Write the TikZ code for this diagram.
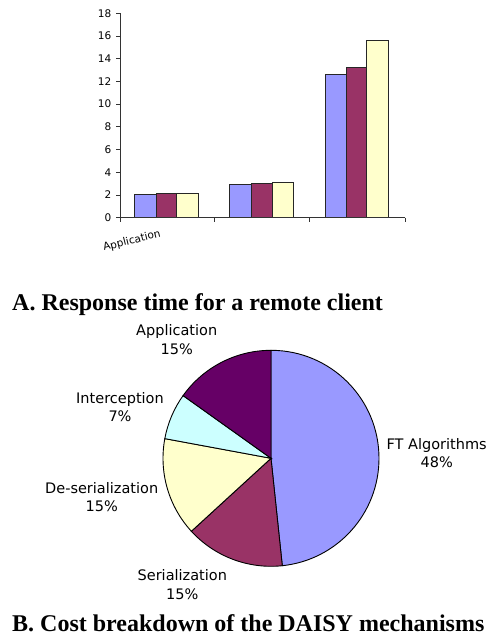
\documentclass[tikz,border=0pt]{standalone}
\usepackage{fontspec}
\setmainfont{DejaVu Sans}
\newfontfamily\capfont{Liberation Serif}
\definecolor{cblue}{HTML}{9999FF}
\definecolor{cplum}{HTML}{993366}
\definecolor{cyell}{HTML}{FFFFCC}
\definecolor{ccyan}{HTML}{CCFFFF}
\definecolor{cdark}{HTML}{660066}
\begin{document}
\begin{tikzpicture}[x=1pt,y=-1pt,
  ticklab/.style={anchor=east,inner sep=0pt,font=\fontsize{10.5}{12}\selectfont},
  pielab/.style={align=center,inner sep=0pt,font=\fontsize{14.5}{18.3}\selectfont},
  caption/.style={anchor=base west,inner sep=0pt,font=\capfont\bfseries\fontsize{24}{28}\selectfont},
  barline/.style={draw=black!85,line width=0.8pt},
  axisline/.style={draw=black!80,line width=0.8pt},
  slice/.style={draw=black,line width=0.9pt}]
\useasboundingbox (0,0) rectangle (493,636);
% ---------- bar chart ----------
\def\yz{217.7}
\def\ys{11.36}
% bars
\foreach \xa/\xb/\v/\c in {134/156/2.05/cblue,156/176.7/2.12/cplum,176.7/198/2.18/cyell,
  229.3/251.3/2.94/cblue,251.3/272.7/3.05/cplum,272.7/293.3/3.15/cyell,
  325/346/12.65/cblue,346/366.7/13.2/cplum,366.7/388.3/15.58/cyell}
  {\filldraw[fill=\c,barline] (\xa,\yz) rectangle (\xb,{\yz-\ys*\v});}
% axes
\draw[axisline] (120,{\yz-\ys*18}) -- (120,\yz) -- (405,\yz);
\foreach \v in {0,2,...,18}{
  \draw[axisline] (116,{\yz-\ys*\v}) -- (120,{\yz-\ys*\v});
  \node[ticklab] (t\v) at (111.5,{\yz-\ys*\v}) {\v};
}
\foreach \x in {120,214.3,309.3,405}
  \draw[axisline] (\x,\yz) -- (\x,222);
\node[rotate=14,inner sep=0pt,font=\fontsize{10.5}{12}\selectfont] (applab) at (132,241) {Application};
\node[caption] (capA) at (12,310) {A. Response time for a remote client};
% ---------- pie chart ----------
\begin{scope}[shift={(271,458.3)},y=1pt]
  \filldraw[slice,fill=cblue] (0,0) -- (90:108) arc[start angle=90,end angle=-84,radius=108] -- cycle;
  \filldraw[slice,fill=cplum] (0,0) -- (-84:108) arc[start angle=-84,end angle=-137.5,radius=108] -- cycle;
  \filldraw[slice,fill=cyell] (0,0) -- (-137.5:108) arc[start angle=-137.5,end angle=-190.5,radius=108] -- cycle;
  \filldraw[slice,fill=ccyan] (0,0) -- (-190.5:108) arc[start angle=-190.5,end angle=-215.5,radius=108] -- cycle;
  \filldraw[slice,fill=cdark] (0,0) -- (-215.5:108) arc[start angle=-215.5,end angle=-270,radius=108] -- cycle;
\end{scope}
\node[pielab] (lapp) at (176.7,339.7) {Application\\15\%};
\node[pielab] (lint) at (120,407) {Interception\\7\%};
\node[pielab] (ldes) at (101.7,497) {De-serialization\\15\%};
\node[pielab] (lser) at (182.3,584.7) {Serialization\\15\%};
\node[pielab] (lft) at (436.7,453) {FT Algorithms\\48\%};
\node[caption] (capB) at (12,631) {B. Cost breakdown of the DAISY mechanisms};
\end{tikzpicture}
\end{document}
